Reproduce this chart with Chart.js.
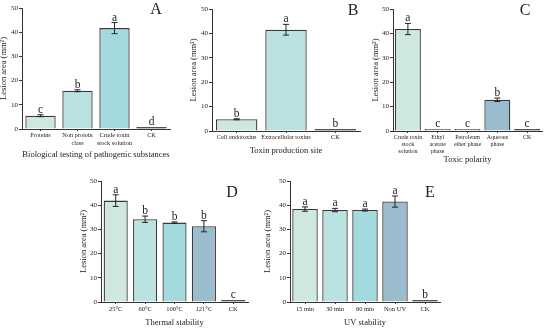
<!DOCTYPE html>
<html>
<head>
<meta charset="utf-8">
<script src="https://cdn.jsdelivr.net/npm/chart.js@4"></script>
<style>
  body { margin: 0; background: #fff; }
  #wrap { position: relative; width: 550px; height: 328px; overflow: hidden; }
  canvas { position: absolute; }
</style>
</head>
<body>
<div id="wrap">
  <canvas id="chart_a"></canvas>
  <canvas id="chart_b"></canvas>
  <canvas id="chart_c"></canvas>
  <canvas id="chart_d"></canvas>
  <canvas id="chart_e"></canvas>
</div>
<script>
// A - pathogenic substances
const labelsA = ["Proteins", ["Non protein", "class"], ["Crude toxin", "stock solution"], "CK"];
const valuesA = [5.5, 15.8, 41.7, 0.8];
const errorsA = [0.4, 0.4, 2.3, 0];
const lettersA = ["c", "b", "a", "d"];

// B - toxin production site
const labelsB = ["Cell endotoxins", "Extracellular toxins", "CK"];
const valuesB = [4.8, 41.5, 0.8];
const errorsB = [0.2, 2.2, 0];
const lettersB = ["b", "a", "b"];

// C - toxic polarity
const labelsC = [["Crude toxin", "stock", "solution"], ["Ethyl", "acetate", "phase"], ["Petroleum", "ether phase"], ["Aqueous", "phase"], "CK"];
const valuesC = [41.8, 0.8, 0.8, 12.8, 0.8];
const errorsC = [2.3, 0, 0, 0.7, 0];
const lettersC = ["a", "c", "c", "b", "c"];

// D - thermal stability
const labelsD = ["25\u00b0C", "60\u00b0C", "100\u00b0C", "121\u00b0C", "CK"];
const valuesD = [41.9, 34.2, 32.8, 31.3, 0.8];
const errorsD = [2.4, 1.3, 0.3, 2.3, 0];
const lettersD = ["a", "b", "b", "b", "c"];

// E - UV stability
const labelsE = ["15 min", "30 min", "60 min", "Non UV", "CK"];
const valuesE = [38.4, 38.0, 38.0, 41.5, 0.8];
const errorsE = [0.9, 0.7, 0.4, 2.3, 0];
const lettersE = ["a", "a", "a", "a", "b"];

const yTicks = [0, 10, 20, 30, 40, 50];

const palette = ["#cfe8dd", "#b9e2e1", "#a2dadd", "#9bbccc"];
const serif = "'Liberation Serif', 'DejaVu Serif', serif";
const ink = "#222";

const barExtras = {
    id: "barExtras",
    afterDatasetsDraw(chart, args, opts) {
        const ctx = chart.ctx;
        const meta = chart.getDatasetMeta(0);
        const y = chart.scales.y;
        const vals = chart.data.datasets[0].data;
        ctx.save();
        ctx.strokeStyle = "#222";
        ctx.lineWidth = 1;
        ctx.fillStyle = ink;
        meta.data.forEach((bar, i) => {
            const e = opts.errors[i];
            let top = bar.y;
            if (e > 0) {
                const y1 = y.getPixelForValue(vals[i] + e);
                const y2 = y.getPixelForValue(vals[i] - e);
                ctx.beginPath();
                ctx.moveTo(bar.x, y1); ctx.lineTo(bar.x, y2);
                ctx.moveTo(bar.x - 3, y1); ctx.lineTo(bar.x + 3, y1);
                ctx.moveTo(bar.x - 3, y2); ctx.lineTo(bar.x + 3, y2);
                ctx.stroke();
                top = Math.min(top, y1);
            }
            ctx.font = "11.5px " + serif;
            ctx.textAlign = "center";
            ctx.textBaseline = "alphabetic";
            ctx.fillText(opts.letters[i], bar.x, top - 2);
        });
        const area = chart.chartArea;
        ctx.font = "16px " + serif;
        ctx.textAlign = "center";
        ctx.fillText(opts.panel, area.right - opts.panelDx, area.top + opts.panelDy);
        ctx.restore();
    }
};

function drawPanel(id, box, labels, values, errors, letters, panel, xTitle, tickSize, tickLine) {
    const canvas = document.getElementById(id);
    canvas.width = box.w;
    canvas.height = box.h;
    canvas.style.left = box.x + "px";
    canvas.style.top = box.y + "px";

    // last bar is the CK control, drawn as a dark line
    const colors = values.map((v, i) => i < values.length - 1 ? palette[i] : "#111111");

    return new Chart(canvas, {
        type: "bar",
        data: {
            labels: labels,
            datasets: [{
                data: values,
                backgroundColor: colors,
                borderColor: "#3a3a3a",
                borderWidth: 1.3,
                barPercentage: box.bar,
                categoryPercentage: 1
            }]
        },
        options: {
            responsive: false,
            animation: false,
            devicePixelRatio: 1,
            layout: { padding: { top: box.padTop, right: box.padRight, left: 0, bottom: 0 } },
            plugins: {
                legend: { display: false },
                tooltip: { enabled: false },
                barExtras: { errors: errors, letters: letters, panel: panel, panelDx: box.panelDx, panelDy: box.panelDy }
            },
            scales: {
                x: {
                    afterFit: s => { s.height = box.xh; },
                    grid: { display: true, drawOnChartArea: false, offset: false, tickLength: 2, tickColor: "#333" },
                    border: { color: "#333", width: 1 },
                    ticks: {
                        color: ink, padding: 1, maxRotation: 0, autoSkip: false,
                        font: { family: serif, size: tickSize, lineHeight: tickLine }
                    },
                    title: {
                        display: true, text: xTitle, color: ink, padding: 0,
                        font: { family: serif, size: 8.5, lineHeight: 1 }
                    }
                },
                y: {
                    min: 0, max: 50,
                    afterFit: s => { s.width = box.yw; },
                    afterBuildTicks: s => { s.ticks = yTicks.map(v => ({ value: v })); },
                    grid: { display: true, drawOnChartArea: false, tickLength: 3, tickColor: "#333" },
                    border: { color: "#333", width: 1 },
                    ticks: { color: ink, padding: 1, font: { family: serif, size: 7 } },
                    title: {
                        display: true, text: "Lesion area (mm\u00b2)", color: ink, padding: 0,
                        font: { family: serif, size: 8.5, lineHeight: 1 }
                    }
                }
            }
        },
        plugins: [barExtras]
    });
}

drawPanel("chart_a", { x: 0, y: 0, w: 180, h: 159, yw: 22, xh: 30, padTop: 8, padRight: 10, bar: 0.82, panelDx: 14, panelDy: 6 },
    labelsA, valuesA, errorsA, lettersA, "A", "Biological testing of pathogenic substances", 6.3, 1.2);
drawPanel("chart_b", { x: 190, y: 0, w: 175, h: 155, yw: 22, xh: 24, padTop: 9, padRight: 5, bar: 0.84, panelDx: 7, panelDy: 6 },
    labelsB, valuesB, errorsB, lettersB, "B", "Toxin production site", 6.3, 1.2);
drawPanel("chart_c", { x: 372, y: 0, w: 178, h: 164, yw: 21, xh: 33, padTop: 9, padRight: 8, bar: 0.87, panelDx: 17, panelDy: 6 },
    labelsC, valuesC, errorsC, lettersC, "C", "Toxic polarity", 6, 1.15);
drawPanel("chart_d", { x: 80, y: 165, w: 175, h: 162, yw: 21, xh: 25, padTop: 16, padRight: 7, bar: 0.82, panelDx: 16, panelDy: 16 },
    labelsD, valuesD, errorsD, lettersD, "D", "Thermal stability", 6.5, 1.2);
drawPanel("chart_e", { x: 264, y: 165, w: 186, h: 162, yw: 26, xh: 25, padTop: 16, padRight: 10, bar: 0.85, panelDx: 10, panelDy: 16 },
    labelsE, valuesE, errorsE, lettersE, "E", "UV stability", 6.5, 1.2);
</script>
</body>
</html>
